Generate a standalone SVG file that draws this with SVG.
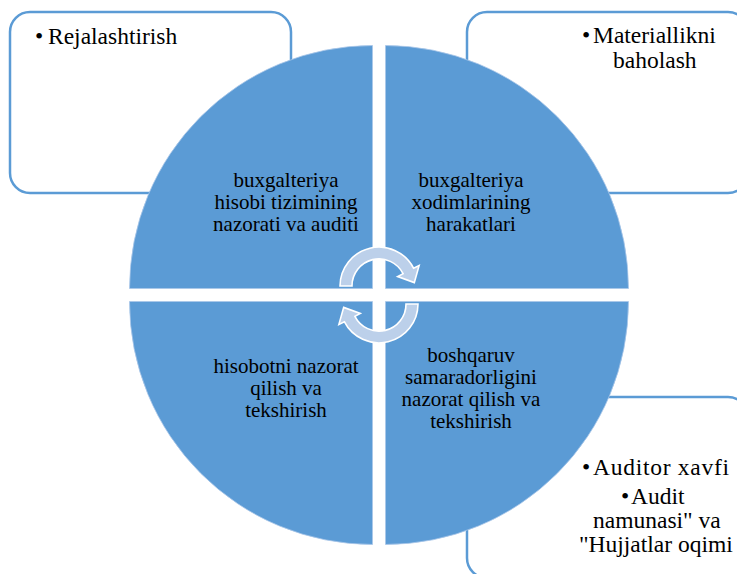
<svg xmlns="http://www.w3.org/2000/svg" width="737" height="574" viewBox="0 0 737 574">
<style>
.box{fill:#ffffff;stroke:#5b9bd5;stroke-width:2.5}
.quad{fill:#5b9bd5;stroke:#a9c6e8;stroke-width:0.8}
.arrow{fill:#bcd0ea;stroke:#ffffff;stroke-width:1.6;stroke-linejoin:miter}
.qt{font-family:'Liberation Serif','Tinos','DejaVu Serif',serif;font-size:21px;fill:#000;text-anchor:middle}
.bt{font-family:'Liberation Serif','Tinos','DejaVu Serif',serif;font-size:23.5px;fill:#000}
</style>
<rect width="737" height="574" fill="#ffffff"/>
<g id="box-tl"><rect class="box" x="10" y="12" width="281" height="181" rx="20"/>
<text class="bt"><tspan x="35" y="44">•</tspan><tspan x="48" y="44">Rejalashtirish</tspan></text></g>
<g id="box-tr"><rect class="box" x="467" y="12" width="281" height="181" rx="20"/>
<text class="bt"><tspan x="582" y="43">•</tspan><tspan x="593" y="43">Materiallikni</tspan><tspan x="613" y="68">baholash</tspan></text></g>
<g id="box-br"><rect class="box" x="467" y="397" width="281" height="181" rx="20"/>
<text class="bt"><tspan x="582" y="475">•</tspan><tspan x="593" y="475" textLength="136" lengthAdjust="spacing">Auditor xavfi</tspan><tspan x="621" y="504">•</tspan><tspan x="631" y="504">Audit</tspan><tspan x="593" y="528">namunasi" va</tspan><tspan x="579" y="552">"Hujjatlar oqimi</tspan></text></g>
<g id="quad-tl"><path class="quad" d="M372.5,288.5 L129.5,288.5 A243,243 0 0 1 372.5,45.5 Z"/>
<text class="qt"><tspan x="286" y="187">buxgalteriya</tspan><tspan x="286" y="209">hisobi tizimining</tspan><tspan x="286" y="231">nazorati va auditi</tspan></text></g>
<g id="quad-tr"><path class="quad" d="M385.5,288.5 L385.5,45.5 A243,243 0 0 1 628.5,288.5 Z"/>
<text class="qt"><tspan x="471" y="187">buxgalteriya</tspan><tspan x="471" y="209">xodimlarining</tspan><tspan x="471" y="231">harakatlari</tspan></text></g>
<g id="quad-br"><path class="quad" d="M385.5,301.5 L628.5,301.5 A243,243 0 0 1 385.5,544.5 Z"/>
<text class="qt"><tspan x="471" y="362">boshqaruv</tspan><tspan x="471" y="384">samaradorligini</tspan><tspan x="471" y="406">nazorat qilish va</tspan><tspan x="471" y="428">tekshirish</tspan></text></g>
<g id="quad-bl"><path class="quad" d="M372.5,301.5 L372.5,544.5 A243,243 0 0 1 129.5,301.5 Z"/>
<text class="qt"><tspan x="286" y="373">hisobotni nazorat</tspan><tspan x="286" y="395">qilish va</tspan><tspan x="286" y="417">tekshirish</tspan></text></g>
<g id="connectors">
<path class="arrow" d="M340,286 A39,39 0 0 1 413.7,268.3 L419.1,265.6 L414.3,282.6 L397.7,276.5 L403.1,273.7 A27,27 0 0 0 352,286 Z"/>
<path class="arrow" transform="rotate(180 379 295)" d="M340,286 A39,39 0 0 1 413.7,268.3 L419.1,265.6 L414.3,282.6 L397.7,276.5 L403.1,273.7 A27,27 0 0 0 352,286 Z"/>
</g>
</svg>
